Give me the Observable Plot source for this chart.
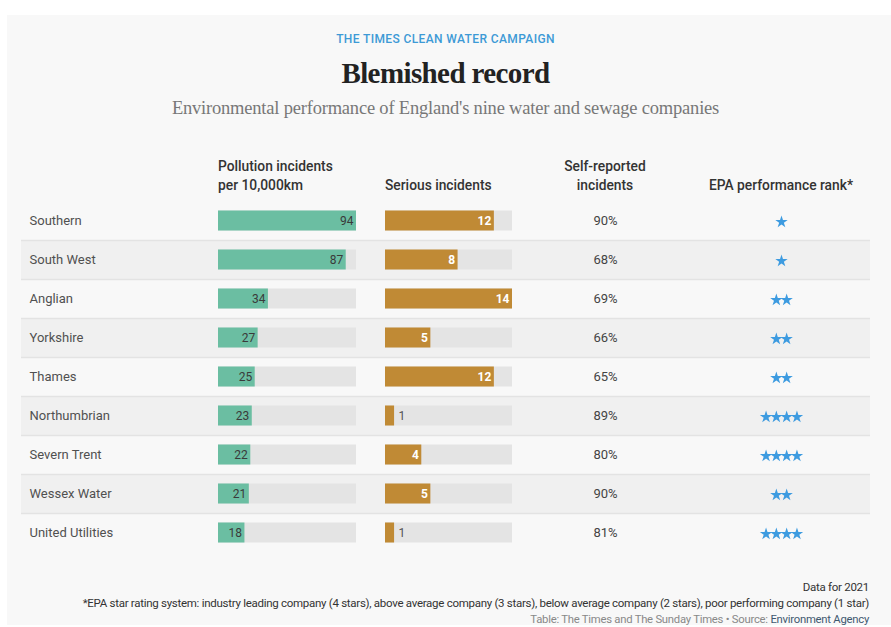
<!DOCTYPE html>
<html>
<head>
<meta charset="utf-8">
<script src="https://cdn.jsdelivr.net/npm/d3@7"></script>
<script src="https://cdn.jsdelivr.net/npm/@observablehq/plot@0.6"></script>
<style>
  body { margin: 0; background: #fff; width: 891px; height: 627px; position: relative; overflow: hidden; font-family: Roboto, sans-serif; }
  #panel { position: absolute; left: 7px; top: 15px; width: 884px; height: 610px; background: #f8f8f8; }
  .abs { position: absolute; white-space: nowrap; }
  .kicker { left: 0; width: 891px; text-align: center; top: 32px; line-height: 14px; font-size: 12px; letter-spacing: 0.38px; font-weight: 500; color: #3d9ad6; }
  .title { left: 0; width: 891px; text-align: center; top: 56px; line-height: 34px; font-family: "Liberation Serif", serif; font-weight: bold; font-size: 29px; color: #222; letter-spacing: -0.6px; }
  .subtitle { left: 0; width: 891px; text-align: center; top: 96px; line-height: 24px; font-family: "Liberation Serif", serif; font-size: 18.5px; color: #777; letter-spacing: -0.2px; }
  .hdr { font-size: 13.8px; font-weight: 500; color: #333; line-height: 19px; }
  .foot { right: 22px; text-align: right; font-size: 11.5px; color: #333; line-height: 14px; letter-spacing: -0.28px; }
  .plot { position: absolute; top: 201px; }
</style>
</head>
<body>
<div id="panel"></div>
<div class="abs kicker">THE TIMES CLEAN WATER CAMPAIGN</div>
<div class="abs title">Blemished record</div>
<div class="abs subtitle">Environmental performance of England's nine water and sewage companies</div>

<div class="abs hdr" style="left:218px; top:157px;">Pollution incidents<br>per 10,000km</div>
<div class="abs hdr" style="left:385px; top:176px;">Serious incidents</div>
<div class="abs hdr" style="left:505px; width:200px; text-align:center; top:157px;">Self-reported<br>incidents</div>
<div class="abs hdr" style="left:681px; width:200px; text-align:center; top:176px;">EPA performance rank*</div>

<div id="bg" class="plot" style="left:21px;"></div>
<div id="pol" class="plot" style="left:218px;"></div>
<div id="ser" class="plot" style="left:385px;"></div>
<div id="self" class="plot" style="left:545px;"></div>
<div id="epa" class="plot" style="left:721px;"></div>

<div class="abs foot" style="top:580px;">Data for 2021</div>
<div class="abs foot" style="top:596px;">*EPA star rating system: industry leading company (4 stars), above average company (3 stars), below average company (2 stars), poor performing company (1 star)</div>
<div class="abs foot" style="top:613px; color:#888; font-size:11.3px; letter-spacing:-0.25px;">Table: The Times and The Sunday Times • Source: <span style="color:#3f5870;">Environment Agency</span></div>

<script>
const companies = ["Southern", "South West", "Anglian", "Yorkshire", "Thames", "Northumbrian", "Severn Trent", "Wessex Water", "United Utilities"];
const pollution = [94, 87, 34, 27, 25, 23, 22, 21, 18];
const serious = [12, 8, 14, 5, 12, 1, 4, 5, 1];
const selfReported = [90, 68, 69, 66, 65, 89, 80, 90, 81];
const epaStars = [1, 1, 2, 2, 2, 4, 4, 2, 4];

const rows = companies.map((c, i) => ({
  company: c, pollution: pollution[i], serious: serious[i],
  selfReported: selfReported[i], stars: epaStars[i], idx: i
}));
// one item per star, centred around 0 within each row
const starItems = rows.flatMap(d => d3.range(d.stars).map(k => ({company: d.company, pos: k - (d.stars - 1) / 2})));

const H = 351;
const base = {
  height: H, marginTop: 0, marginBottom: 0, marginLeft: 0, marginRight: 0,
  style: {background: "transparent", fontFamily: "Roboto, sans-serif"},
  y: {type: "band", domain: companies, padding: 0, axis: null}
};
const bandH = H / companies.length;
const inset = (bandH - 20) / 2;

// background: row bands, separators, company names
document.getElementById("bg").append(Plot.plot({
  ...base, width: 849,
  marks: [
    Plot.cell(rows.filter(d => d.idx % 2 === 1), {y: "company", fill: "#f0f0f0"}),
    Plot.ruleY(rows.slice(1), {y: "company", stroke: "#e3e3e3", strokeWidth: 1.5, dy: -bandH / 2}),
    Plot.text(rows, {y: "company", text: "company", frameAnchor: "left", dx: 8, fill: "#505050", fontSize: 13})
  ]
}));

// pollution incidents bars
document.getElementById("pol").append(Plot.plot({
  ...base, width: 138,
  x: {domain: [0, d3.max(pollution)], axis: null},
  marks: [
    Plot.barX(rows, {y: "company", x: d3.max(pollution), fill: "#e4e4e4", insetTop: inset, insetBottom: inset}),
    Plot.barX(rows, {y: "company", x: "pollution", fill: "#6bbea2", insetTop: inset, insetBottom: inset}),
    Plot.text(rows, {y: "company", x: "pollution", text: d => String(d.pollution), textAnchor: "end", dx: -3, fill: "#3a3a3a", fontSize: 12})
  ]
}));

// serious incidents bars
document.getElementById("ser").append(Plot.plot({
  ...base, width: 127,
  x: {domain: [0, d3.max(serious)], axis: null},
  marks: [
    Plot.barX(rows, {y: "company", x: d3.max(serious), fill: "#e4e4e4", insetTop: inset, insetBottom: inset}),
    Plot.barX(rows, {y: "company", x: "serious", fill: "#c08a35", insetTop: inset, insetBottom: inset}),
    Plot.text(rows.filter(d => d.serious > 1), {y: "company", x: "serious", text: d => String(d.serious), textAnchor: "end", dx: -3, fill: "#fff", fontWeight: "bold", fontSize: 12}),
    Plot.text(rows.filter(d => d.serious <= 1), {y: "company", x: "serious", text: d => String(d.serious), textAnchor: "start", dx: 4, fill: "#555", fontSize: 12})
  ]
}));

// self-reported percentages
document.getElementById("self").append(Plot.plot({
  ...base, width: 120,
  marks: [
    Plot.text(rows, {y: "company", text: d => d.selfReported + "%", frameAnchor: "middle", fill: "#444", fontSize: 13})
  ]
}));

// EPA stars
const starStep = 10.3;
document.getElementById("epa").append(Plot.plot({
  ...base, width: 120,
  x: {domain: [-60 / starStep, 60 / starStep], axis: null},
  marks: [
    Plot.dot(starItems, {y: "company", x: "pos", symbol: "star", r: 3.9, fill: "#3d9be0", stroke: "none", dy: 1})
  ]
}));
</script>
</body>
</html>
